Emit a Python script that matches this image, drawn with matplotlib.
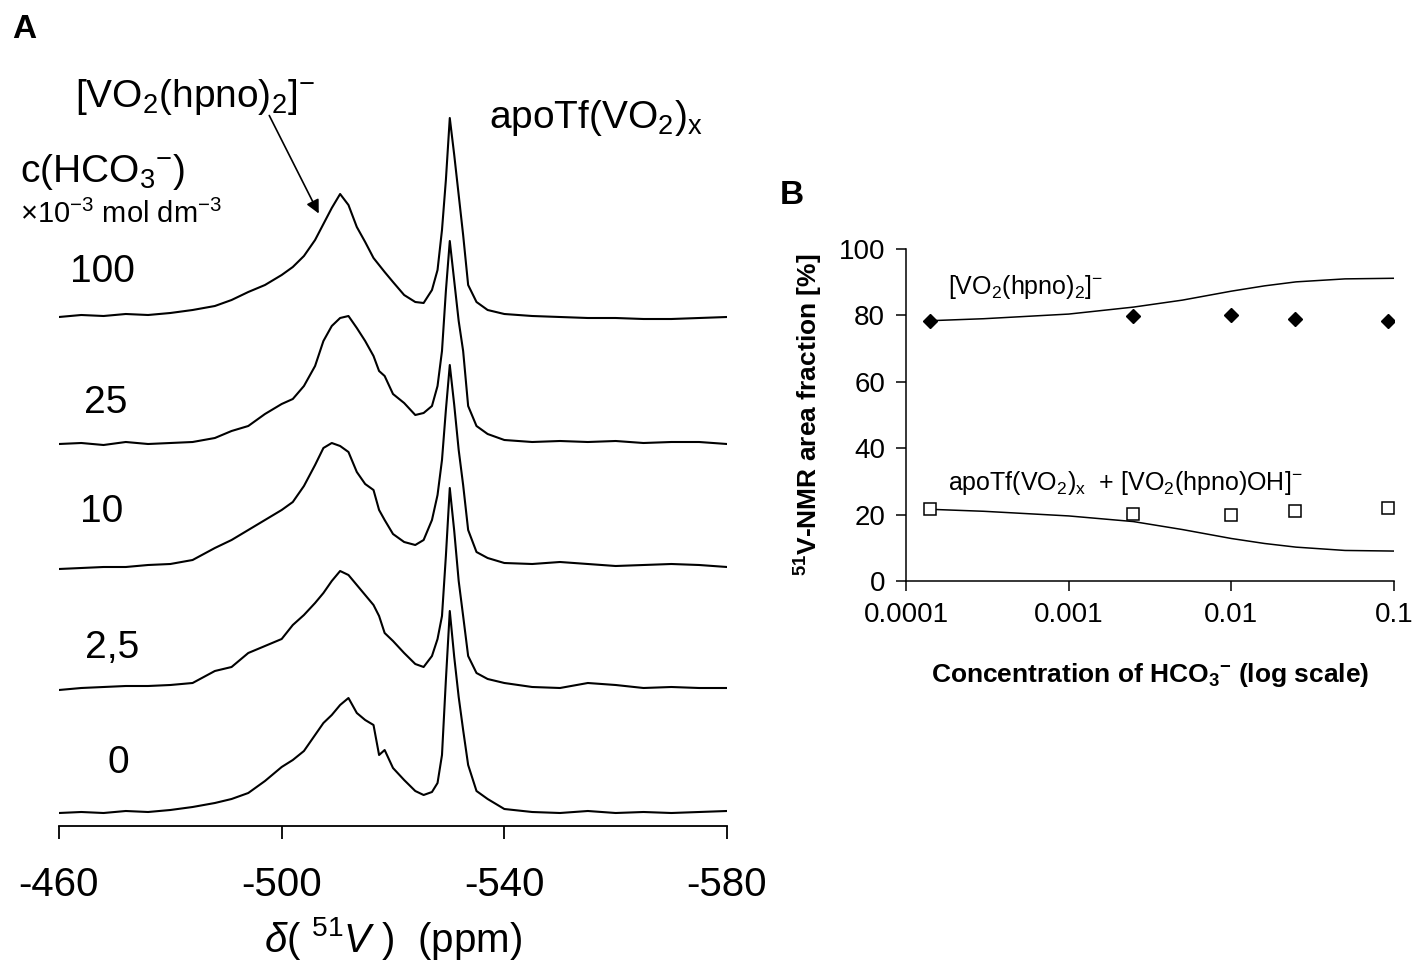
import matplotlib
matplotlib.use("Agg")
import matplotlib.pyplot as plt
import numpy as np

plt.rcParams["font.family"] = ["Liberation Sans", "DejaVu Sans"]
plt.rcParams["mathtext.fontset"] = "custom"
plt.rcParams["mathtext.rm"] = "Liberation Sans"
plt.rcParams["mathtext.it"] = "Liberation Sans:italic"
plt.rcParams["mathtext.bf"] = "Liberation Sans:bold"
plt.rcParams["axes.unicode_minus"] = False

# ---- panel A: 51V NMR spectra, heights (arb. units) ----
ppm = [-460, -464, -468, -472, -476, -480, -484, -488, -491, -494, -497, -500,
       -502, -504, -506, -507.5, -509, -510.5, -512, -513.5, -515, -516.5,
       -517.5, -518.5, -520, -522, -524, -525.5, -527, -528, -528.8, -529.5,
       -530.2, -531, -531.8, -532.6, -533.5, -535, -537, -540, -545, -550,
       -555, -560, -565, -570, -575, -580]

spec_0 = [2, 3, 2, 4, 3, 5, 8, 12, 16, 22, 34, 48, 55, 64, 80, 92, 100, 110,
          117, 102, 95, 90, 60, 65, 47, 35, 24, 20, 23, 32, 60, 135, 204, 158,
          118, 85, 50, 24, 16, 6, 3, 2, 4, 2, 3, 2, 3, 4]
spec_2_5 = [1, 3, 4, 5, 5, 6, 8, 20, 24, 38, 45, 52, 66, 76, 88, 98, 110, 120,
            116, 106, 96, 86, 75, 58, 50, 38, 27, 24, 35, 52, 75, 135, 203, 160,
            110, 75, 35, 18, 12, 8, 4, 3, 8, 6, 3, 4, 3, 3]
spec_10 = [1, 2, 3, 3, 5, 6, 10, 22, 30, 40, 50, 60, 68, 84, 105, 122, 127, 124,
           118, 98, 86, 80, 60, 50, 36, 28, 25, 30, 50, 75, 110, 160, 205, 165,
           120, 85, 40, 18, 12, 7, 6, 8, 6, 4, 5, 6, 5, 3]
spec_25 = [2, 3, 1, 4, 2, 3, 4, 8, 15, 20, 32, 42, 47, 60, 80, 105, 120, 128,
           130, 118, 105, 90, 75, 70, 52, 43, 31, 33, 40, 60, 95, 155, 205, 165,
           125, 95, 40, 20, 12, 6, 4, 5, 4, 5, 3, 4, 4, 2]
spec_100 = [3, 5, 4, 6, 5, 7, 10, 14, 20, 28, 35, 45, 53, 64, 80, 96, 112, 126,
            115, 93, 78, 62, 55, 48, 38, 25, 18, 17, 30, 50, 90, 140, 202, 165,
            125, 85, 35, 18, 10, 6, 4, 3, 2, 2, 1, 1, 2, 3]

spectra = [spec_0, spec_2_5, spec_10, spec_25, spec_100]
conc_labels = ["0", "2,5", "10", "25", "100"]

# ---- panel B: area fractions vs bicarbonate concentration ----
conc_mol = [1.4e-4, 2.5e-3, 9.9e-3, 2.46e-2, 9.2e-2]
frac_complex = [78.4, 79.7, 80.1, 78.8, 78.2]
frac_protein = [21.6, 20.3, 19.9, 21.1, 21.9]

calc_x = [1.4e-4, 3e-4, 1e-3, 2.5e-3, 5e-3, 1e-2, 1.6e-2, 2.5e-2, 5e-2, 1.07e-1]
calc_complex = [78.4, 79.0, 80.4, 82.5, 84.6, 87.3, 88.9, 90.1, 91.0, 91.2]
calc_protein = [21.6, 21.0, 19.6, 17.9, 15.5, 12.8, 11.3, 10.2, 9.2, 9.0]

W, H = 1412, 969
fig = plt.figure(figsize=(W / 100, H / 100), dpi=100)


def fx(x):
    return x / W


def fy(y):
    return 1 - y / H


# panel A axes (pixel box)
axA = fig.add_axes([fx(59), fy(826), fx(727 - 59), (826 - 100) / H])
offsets = [11, 135, 256, 380, 506]
for spec, off in zip(spectra, offsets):
    axA.plot(ppm, np.array(spec) + off, color="black", lw=1.5)
axA.set_xlim(-460, -580)
axA.set_ylim(0, 726)
for s in ["left", "top", "right"]:
    axA.spines[s].set_visible(False)
axA.spines["bottom"].set_linewidth(1.3)
axA.set_yticks([])
axA.set_xticks([-460, -500, -540, -580])
axA.tick_params(axis="x", direction="out", length=9, width=1.3, pad=20, labelsize=29)
axA.set_xlabel(r"$\delta$( $^{\mathit{51}}\mathit{V}$ )  (ppm)", fontsize=29, labelpad=8)

fig.text(fx(12), fy(29), "A", fontsize=24, fontweight="bold", va="center")
fig.text(fx(75), fy(97), r"[VO$_2$(hpno)$_2$]$^{-}$", fontsize=28, va="center")
fig.text(fx(489), fy(118), r"apoTf(VO$_2$)$_\mathrm{x}$", fontsize=28, va="center")
fig.text(fx(20), fy(172), r"c(HCO$_3$$^{-}$)", fontsize=28, va="center")
fig.text(fx(20), fy(214), r"$\times$10$^{-3}$ mol dm$^{-3}$", fontsize=21, va="center")
lab_pos = [(107, 763), (85, 648), (80, 512), (84, 403), (70, 272)]
for txt, (lx, ly) in zip(conc_labels, lab_pos):
    fig.text(fx(lx), fy(ly), txt, fontsize=28, va="center")
fig.add_artist(matplotlib.patches.FancyArrowPatch(
    (fx(268), fy(113)), (fx(320), fy(216)), transform=fig.transFigure,
    arrowstyle="-|>,head_length=8,head_width=4", color="black", lw=1.2))

# panel B axes
axB = fig.add_axes([fx(906), fy(581), fx(1394 - 906), (581 - 249) / H])
axB.plot(calc_x, calc_complex, color="black", lw=1.1)
axB.plot(calc_x, calc_protein, color="black", lw=1.1)
axB.plot(conc_mol, frac_complex, "D", color="black", ms=7, ls="none")
axB.plot(conc_mol, frac_protein, "s", mfc="white", mec="black", mew=1.1, ms=9, ls="none")
axB.set_xscale("log")
axB.set_xlim(1e-4, 0.1)
axB.set_ylim(0, 100)
axB.set_yticks(range(0, 101, 20))
axB.set_xticks([1e-4, 1e-3, 1e-2, 1e-1])
axB.set_xticklabels(["0.0001", "0.001", "0.01", "0.1"])
axB.xaxis.set_minor_locator(matplotlib.ticker.NullLocator())
for s in ["top", "right"]:
    axB.spines[s].set_visible(False)
for s in ["left", "bottom"]:
    axB.spines[s].set_linewidth(1.1)
axB.tick_params(direction="out", length=7, width=1.1, labelsize=20, pad=8)
axB.set_ylabel(r"$^{\mathbf{51}}$V-NMR area fraction [%]", fontsize=19, fontweight="bold", labelpad=10)
axB.set_xlabel(r"Concentration of HCO$_\mathbf{3}$$^{\mathbf{-}}$ (log scale)", fontsize=19,
               fontweight="bold", labelpad=24)
axB.text(1.8e-4, 88.5, r"[VO$_2$(hpno)$_2$]$^{-}$", fontsize=18, va="center")
axB.text(1.8e-4, 29.5, r"apoTf(VO$_2$)$_\mathrm{x}$  + [VO$_2$(hpno)OH]$^{-}$", fontsize=18, va="center")
fig.text(fx(780), fy(196), "B", fontsize=24, fontweight="bold", va="center")

fig.savefig("out.png", dpi=100)
